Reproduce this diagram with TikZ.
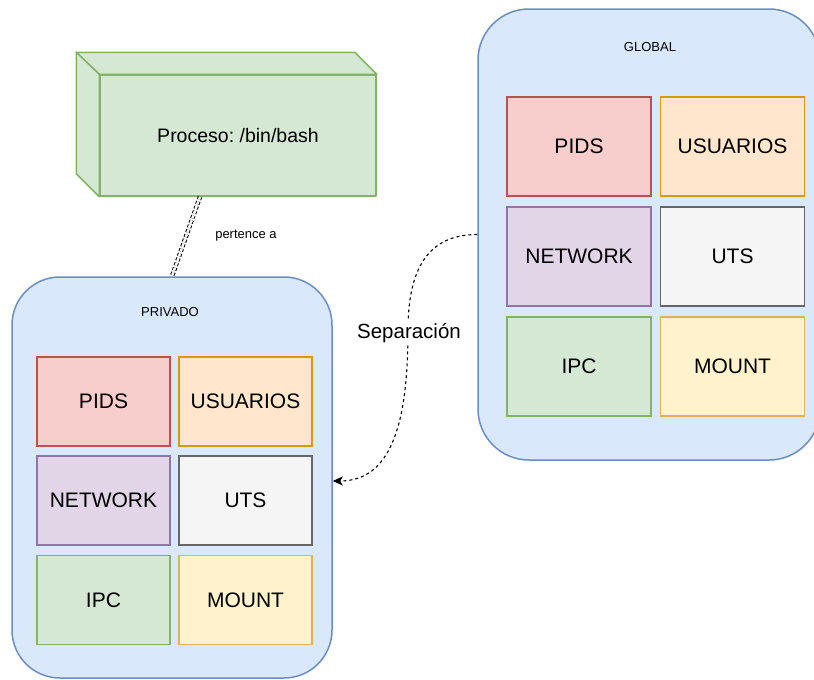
\documentclass[tikz,border=0pt]{standalone}
\usepackage{fontspec}
\setmainfont{Liberation Sans}
\frenchspacing
\usetikzlibrary{calc,arrows.meta}
\definecolor{contfill}{HTML}{DAE8FC}
\definecolor{contline}{HTML}{6C8EBF}
\definecolor{redfill}{HTML}{F8CECC}
\definecolor{redline}{HTML}{B85450}
\definecolor{orfill}{HTML}{FFE6CC}
\definecolor{orline}{HTML}{D79B00}
\definecolor{purfill}{HTML}{E1D5E7}
\definecolor{purline}{HTML}{9673A6}
\definecolor{grfill}{HTML}{F5F5F5}
\definecolor{grline}{HTML}{666666}
\definecolor{gnfill}{HTML}{D5E8D4}
\definecolor{gnline}{HTML}{82B366}
\definecolor{yefill}{HTML}{FFF2CC}
\definecolor{yeline}{HTML}{D6B656}
\tikzset{
  container/.style={draw=contline, fill=contfill, line width=1.5pt, inner sep=0pt},
  nsbox/.style={draw=#1line, fill=#1fill, line width=1.5pt, inner sep=0pt,
     font=\fontsize{21}{25}\selectfont},
  pbox/.style={nsbox=#1, minimum width=133pt, minimum height=89pt},
  gbox/.style={nsbox=#1, minimum width=144pt, minimum height=99pt},
  smalllbl/.style={font=\fontsize{13}{16}\selectfont, inner sep=0pt},
  cubeface/.style={draw=gnline, fill=gnfill, line width=1.5pt, line join=round},
  rel/.style={draw=black, line width=1pt, dash pattern=on 3pt off 2pt, double=white, double distance=2.5pt},
  sepline/.style={draw=black, line width=1.1pt, dash pattern=on 3pt off 3pt, -{Stealth[length=10pt,width=9pt,inset=2.5pt]}},
}
\begin{document}
\begin{tikzpicture}[x=1pt,y=-1pt]
\clip (0,0) rectangle (814,680);
\fill[white] (0,0) rectangle (814,680);

% containers
\node[container, rounded corners=48pt, minimum width=320pt, minimum height=401pt] (priv) at (172,477.5) {};
\node[container, rounded corners=51pt, minimum width=342pt, minimum height=451pt] (glob) at (649,234.5) {};
\node[smalllbl] (privlbl) at ($(priv.north)+(-2,36)$) {PRIVADO};
\node[smalllbl] (globlbl) at ($(glob.north)+(1,39)$) {GLOBAL};

% PRIVADO inner
\node[pbox=red] (ppids) at (103.5,401.5) {PIDS};
\node[pbox=or]  (pusr)  at (245.5,401.5) {USUARIOS};
\node[pbox=pur] (pnet)  at (103.5,500.5) {NETWORK};
\node[pbox=gr]  (puts)  at (245.5,500.5) {UTS};
\node[pbox=gn]  (pipc)  at (103.5,600) {IPC};
\node[pbox=ye]  (pmnt)  at (245.5,600) {MOUNT};

% GLOBAL inner
\node[gbox=red] (gpids) at (579,146.5) {PIDS};
\node[gbox=or]  (gusr)  at (732.5,146.5) {USUARIOS};
\node[gbox=pur] (gnet)  at (579,256.5) {NETWORK};
\node[gbox=gr]  (guts)  at (732.5,256.5) {UTS};
\node[gbox=gn]  (gipc)  at (579,366.5) {IPC};
\node[gbox=ye]  (gmnt)  at (732.5,366.5) {MOUNT};

% cube
\node[cubeface, minimum width=276pt, minimum height=121pt, inner sep=0pt,
      font=\fontsize{19.5}{23}\selectfont] (proc) at (238,135.5) {Proceso: /bin/bash};
\draw[cubeface] (proc.north west) -- ++(-23,-22) -- ($(proc.north east)+(-22,-22)$) -- (proc.north east) -- cycle;
\draw[cubeface] (proc.north west) -- ++(-23,-22) -- ($(proc.south west)+(-23,-23)$) -- (proc.south west) -- cycle;

% pertence a
\draw[rel] ([xshift=-38pt]proc.south) -- (priv.north);
\node[smalllbl] (pertlbl) at (246,236) {pertence a};

% Separacion
\coordinate (sepc) at (408,330);
\draw[sepline] (glob.west) .. controls +(-50,0) and +(0,-60) .. (sepc)
   .. controls +(0,90) and +(60,0) .. ([yshift=-3.5pt]priv.east);
\node[fill=white, inner sep=1.5pt, anchor=base, font=\fontsize{20.5}{24}\selectfont] (seplbl) at (409,338) {Separación};
\end{tikzpicture}
\end{document}
